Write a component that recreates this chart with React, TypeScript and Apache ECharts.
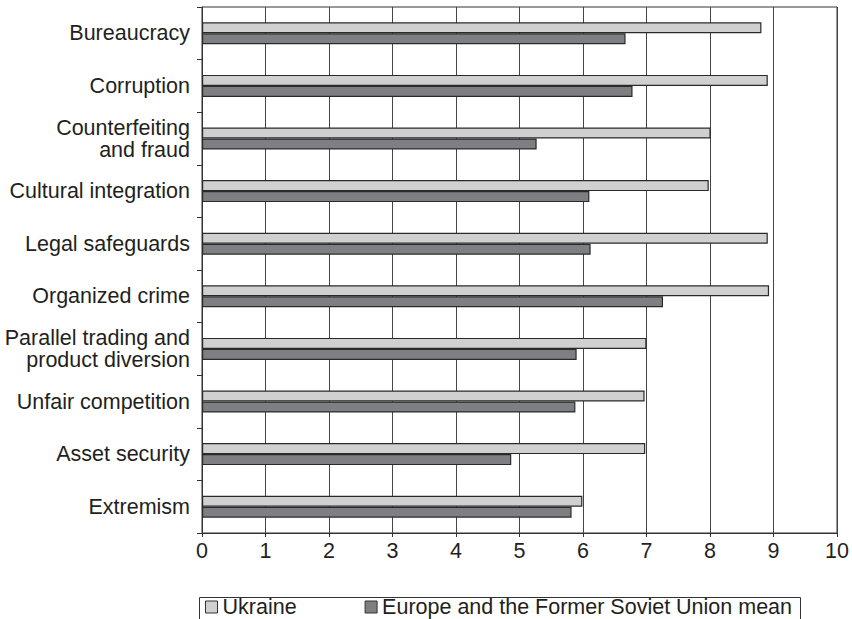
import React, { useEffect, useRef } from "react";
import * as echarts from "echarts";

const categories = [
  "Bureaucracy",
  "Corruption",
  "Counterfeiting\nand fraud",
  "Cultural integration",
  "Legal safeguards",
  "Organized crime",
  "Parallel trading and\nproduct diversion",
  "Unfair competition",
  "Asset security",
  "Extremism",
];
const ukraine = [8.81, 8.91, 8.01, 7.98, 8.91, 8.93, 7.0, 6.97, 6.98, 5.99];
const europeFsuMean = [6.67, 6.78, 5.27, 6.1, 6.12, 7.26, 5.9, 5.88, 4.87, 5.82];
const xTicks = { min: 0, max: 10, interval: 1 };

const FONT = "'Liberation Sans', Arial, Helvetica, sans-serif";
const TEXT = "#231f20";
const FS = 21.5;

export default function App() {
  const ref = useRef<HTMLDivElement>(null);
  useEffect(() => {
    if (!ref.current) return;
    const chart = echarts.init(ref.current, null, { renderer: "svg" });
    chart.setOption({
      animation: false,
      backgroundColor: "#ffffff",
      textStyle: { fontFamily: FONT, color: TEXT },
      grid: {
        left: 202,
        right: 15,
        top: 7,
        bottom: 86,
        show: true,
        borderColor: "#333",
        borderWidth: 1,
        containLabel: false,
      },
      graphic: [
        {
          type: "rect",
          shape: { x: 199.5, y: 597.5, width: 601, height: 30 },
          style: { fill: "none", stroke: "#333", lineWidth: 1 },
          z: 1,
        },
      ],
      legend: {
        data: ["Ukraine", "Europe and the Former Soviet Union mean"],
        left: 205,
        top: 596,
        orient: "horizontal",
        padding: 0,
        itemWidth: 12,
        itemHeight: 12,
        itemGap: 68,
        icon: "rect",
        textStyle: { fontFamily: FONT, fontSize: FS, color: TEXT },
        itemStyle: { borderColor: "#333", borderWidth: 1 },
      },
      xAxis: {
        type: "value",
        min: xTicks.min,
        max: xTicks.max,
        interval: xTicks.interval,
        axisLine: { show: true, lineStyle: { color: "#333", width: 1 } },
        axisTick: { show: true, length: 4, lineStyle: { color: "#333" } },
        axisLabel: { fontFamily: FONT, fontSize: FS, color: TEXT, margin: 7 },
        splitLine: { show: true, lineStyle: { color: "#444", width: 1 } },
      },
      yAxis: {
        type: "category",
        data: categories,
        inverse: true,
        axisLine: { show: true, lineStyle: { color: "#333", width: 1 } },
        axisTick: { show: true, length: 5, inside: false, lineStyle: { color: "#333" } },
        axisLabel: {
          fontFamily: FONT,
          fontSize: FS,
          color: TEXT,
          margin: 12,
          lineHeight: 22,
          align: "right",
        },
        splitLine: { show: false },
      },
      series: [
        {
          name: "Ukraine",
          type: "bar",
          data: ukraine,
          barWidth: 11,
          barGap: "0%",
          itemStyle: { color: "#d0d0d0", borderColor: "#2a2a2a", borderWidth: 1.2 },
        },
        {
          name: "Europe and the Former Soviet Union mean",
          type: "bar",
          data: europeFsuMean,
          barWidth: 11,
          barGap: "0%",
          itemStyle: { color: "#7e7f83", borderColor: "#2a2a2a", borderWidth: 1.2 },
        },
      ],
    });
    return () => chart.dispose();
  }, []);
  return <div ref={ref} style={{ width: 852, height: 619, position: "absolute", left: 0, top: 0 }} />;
}
